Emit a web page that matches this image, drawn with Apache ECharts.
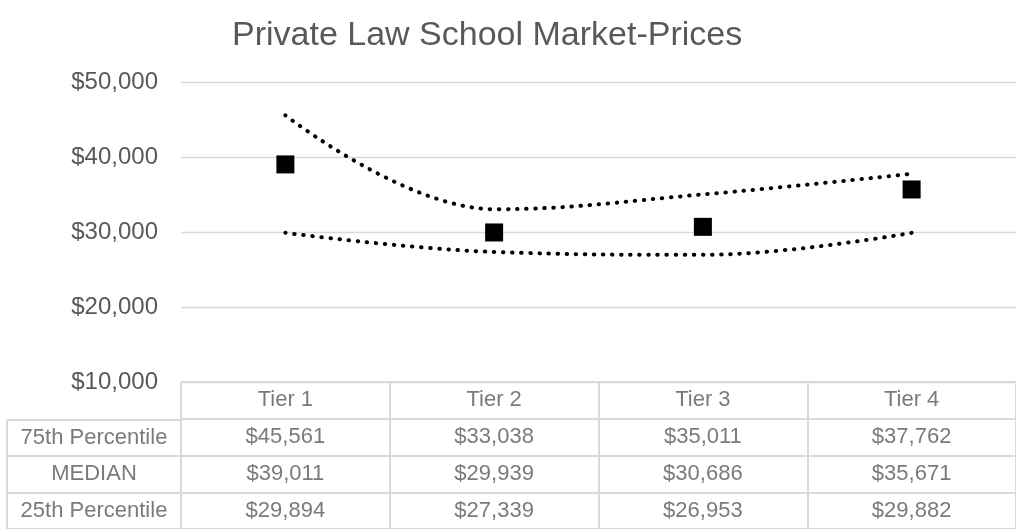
<!DOCTYPE html>
<html>
<head>
<meta charset="utf-8">
<script src="https://cdn.jsdelivr.net/npm/echarts@6/dist/echarts.min.js"></script>
<style>
  html, body { margin: 0; padding: 0; background: #fff; }
  #main { width: 1016px; height: 529px; }
</style>
</head>
<body>
<div id="main"></div>
<script>
// data
var tiers = ['Tier 1', 'Tier 2', 'Tier 3', 'Tier 4'];
var p75 = [45561, 33038, 35011, 37762];
var median = [39011, 29939, 30686, 35671];
var p25 = [29894, 27339, 26953, 29882];
var rowNames = ['75th Percentile', 'MEDIAN', '25th Percentile'];
var yTicks = [10000, 20000, 30000, 40000, 50000];

function money(v) {
  return '$' + Number(v).toLocaleString('en-US');
}

// table cells: header row + one row per series
var cells = tiers.map(function (t, i) { return [i, 0, t]; });
[p75, median, p25].forEach(function (arr, r) {
  arr.forEach(function (v, i) { cells.push([i, r + 1, money(v)]); });
});
var rowCells = rowNames.map(function (n, r) { return [0, r, n]; });

var txt = '#595959';
var line = '#d9d9d9';
var font = '"Liberation Sans", Arial, sans-serif';

var myChart = echarts.init(document.getElementById('main'));

var dotted = {
  color: '#000',
  width: 4,
  type: [0.5, 8.6],
  cap: 'round'
};

var option = {
  animation: false,
  textStyle: { fontFamily: font },
  title: {
    text: 'Private Law School Market-Prices',
    left: 227,
    top: 14,
    textStyle: { fontSize: 34, fontWeight: 'normal', color: txt, fontFamily: font }
  },
  grid: [
    { left: 181, top: 82, width: 842, height: 300 },
    { left: 181, top: 382, width: 842, height: 151 },
    { left: 7, top: 419.75, width: 174, height: 113.25 }
  ],
  xAxis: [
    {
      gridIndex: 0, type: 'category', data: tiers,
      axisLine: { show: false }, axisTick: { show: false },
      axisLabel: { show: false }, splitLine: { show: false }
    },
    {
      gridIndex: 1, type: 'category', data: tiers,
      axisLine: { show: false }, axisTick: { show: false }, axisLabel: { show: false },
      splitLine: { show: true, lineStyle: { color: line, width: 2 } }
    },
    {
      gridIndex: 2, type: 'category', data: [''],
      axisLine: { show: false }, axisTick: { show: false }, axisLabel: { show: false },
      splitLine: { show: true, lineStyle: { color: line, width: 2 } }
    }
  ],
  yAxis: [
    {
      gridIndex: 0, type: 'value',
      min: yTicks[0], max: yTicks[yTicks.length - 1], interval: yTicks[1] - yTicks[0],
      axisLine: { show: false }, axisTick: { show: false },
      axisLabel: { formatter: money, fontSize: 24, color: txt, margin: 23 },
      splitLine: { lineStyle: { color: line, width: 1.3 } }
    },
    {
      gridIndex: 1, type: 'category', data: ['0', '1', '2', '3'], inverse: true,
      axisLine: { show: false }, axisTick: { show: false }, axisLabel: { show: false },
      splitLine: { show: true, lineStyle: { color: line, width: 2 } }
    },
    {
      gridIndex: 2, type: 'category', data: ['0', '1', '2'], inverse: true,
      axisLine: { show: false }, axisTick: { show: false }, axisLabel: { show: false },
      splitLine: { show: true, lineStyle: { color: line, width: 2 } }
    }
  ],
  series: [
    {
      name: '75th Percentile', type: 'line', data: p75,
      smooth: 0.4, showSymbol: false, lineStyle: dotted
    },
    {
      name: 'MEDIAN', type: 'scatter', data: median,
      symbol: 'rect', symbolSize: 18, itemStyle: { color: '#000', opacity: 1 }
    },
    {
      name: '25th Percentile', type: 'line', data: p25,
      smooth: 0.4, showSymbol: false, lineStyle: dotted
    },
    {
      // data table cells
      type: 'scatter', xAxisIndex: 1, yAxisIndex: 1, data: cells,
      symbolSize: 1, itemStyle: { color: 'rgba(0,0,0,0)' }, silent: true,
      label: {
        show: true, position: 'inside', fontSize: 22, color: txt,
        formatter: function (p) { return p.value[2]; }
      }
    },
    {
      // data table row names
      type: 'scatter', xAxisIndex: 2, yAxisIndex: 2, data: rowCells,
      symbolSize: 1, itemStyle: { color: 'rgba(0,0,0,0)' }, silent: true,
      label: {
        show: true, position: 'inside', fontSize: 22, color: txt,
        formatter: function (p) { return p.value[2]; }
      }
    }
  ]
};

myChart.setOption(option);
</script>
</body>
</html>
